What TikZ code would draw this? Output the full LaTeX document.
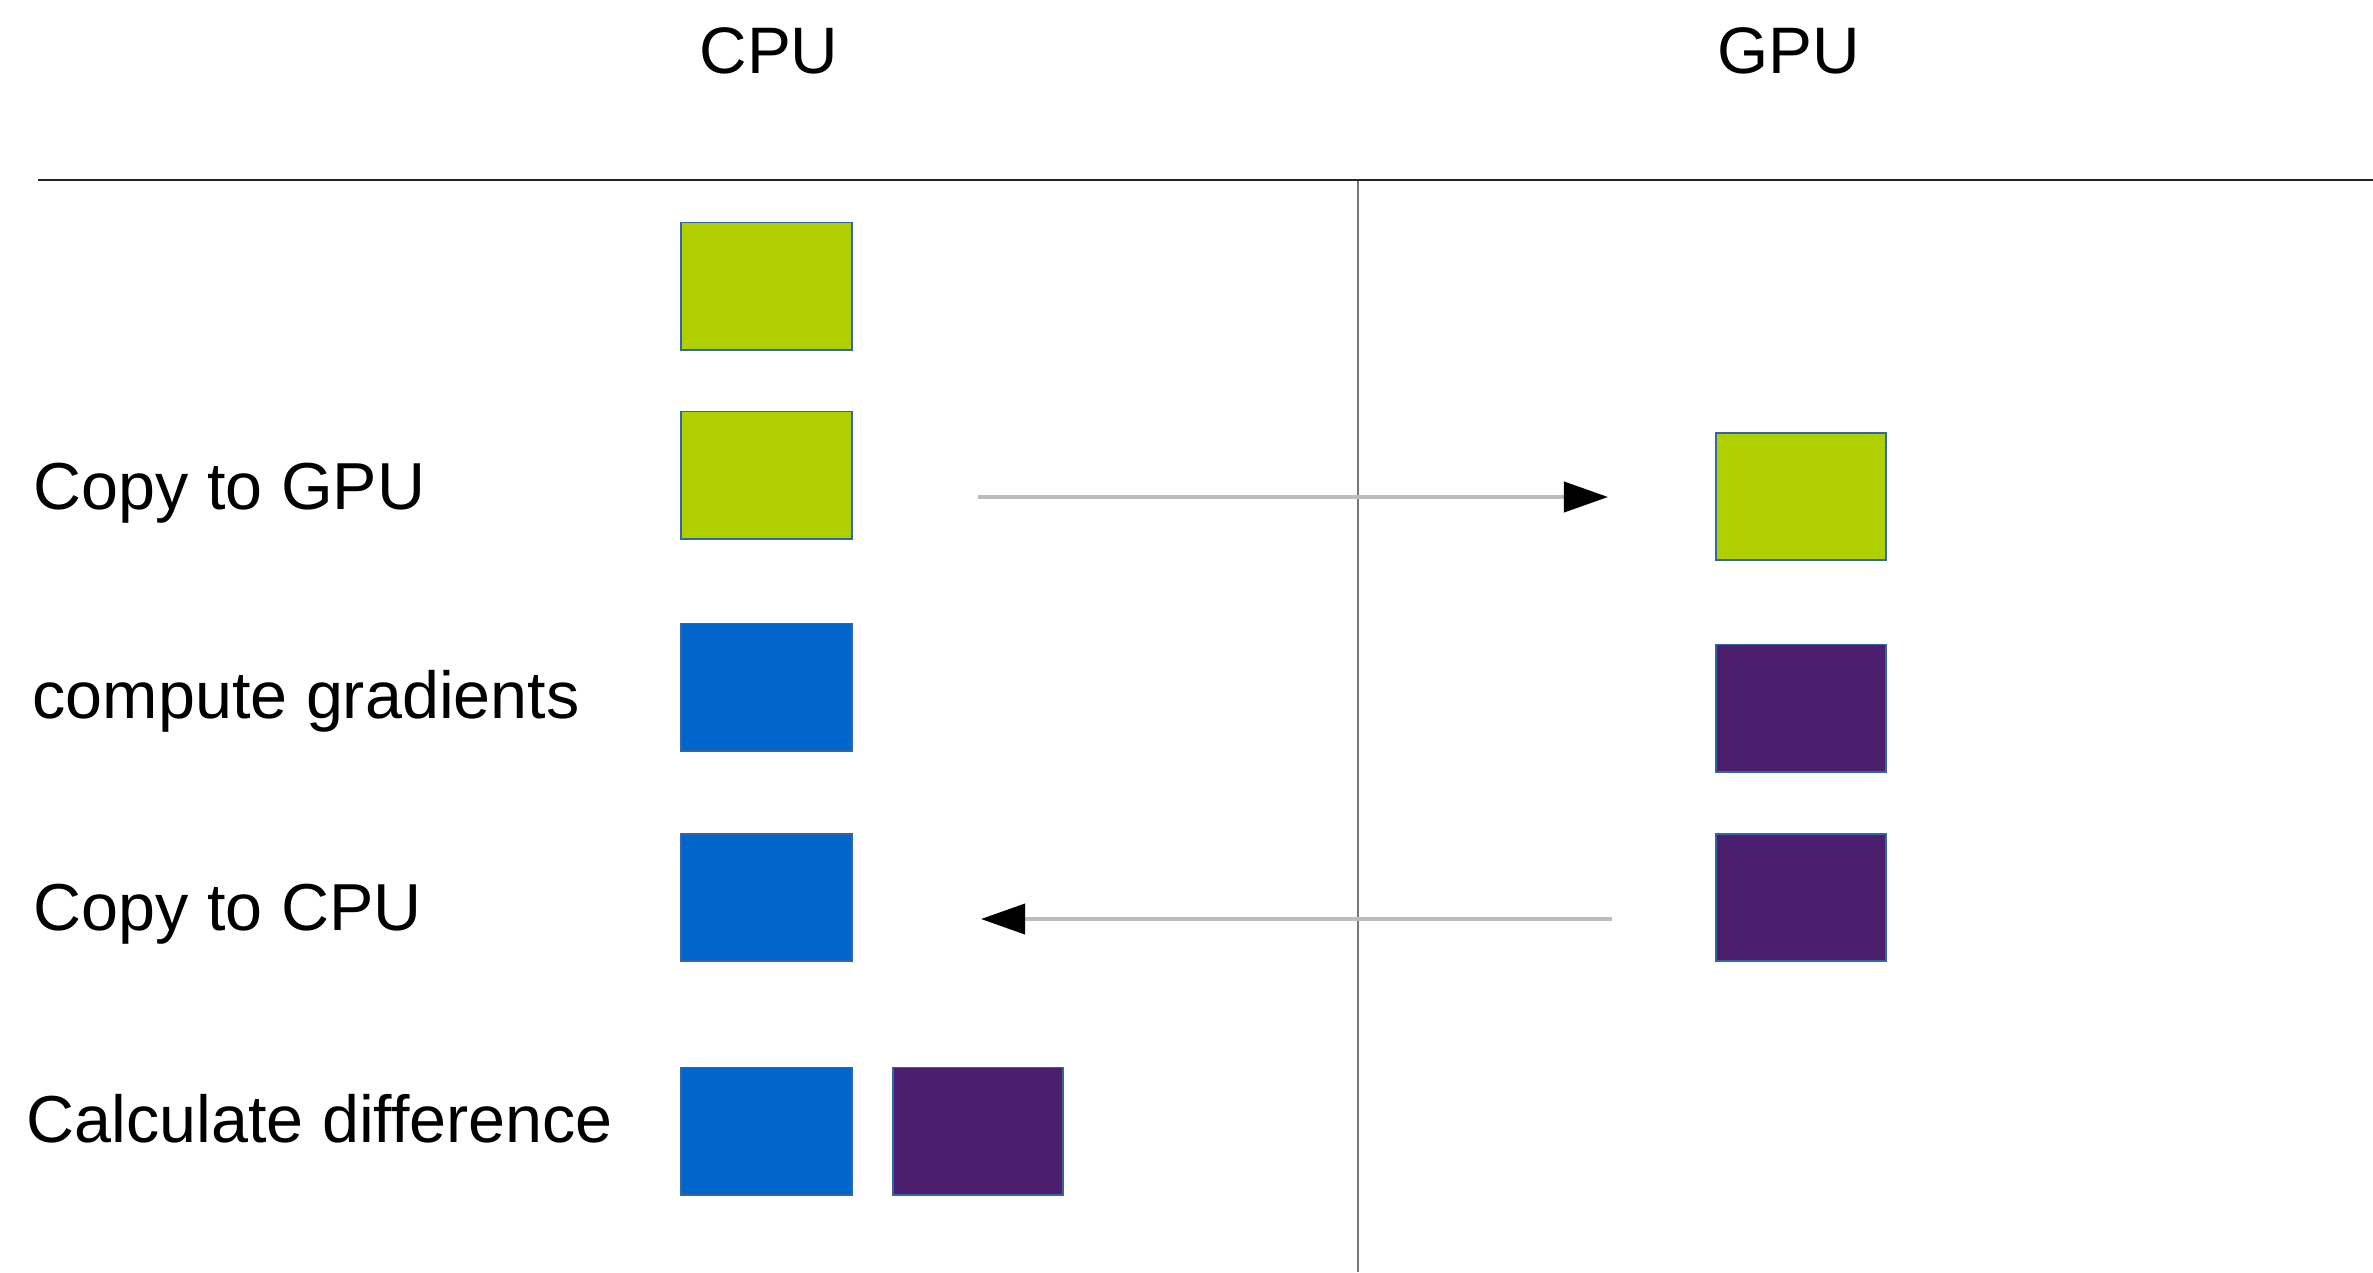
\documentclass[tikz,border=0pt]{standalone}
\usepackage{fontspec}
\setmainfont{Liberation Sans}
\usetikzlibrary{arrows.meta}

\definecolor{dataGreen}{HTML}{B0CF00}
\definecolor{dataBlue}{HTML}{0066CC}
\definecolor{dataPurple}{HTML}{4B1F6E}
\definecolor{boxEdge}{HTML}{3465A4}
\definecolor{flowGray}{HTML}{BDBDBD}
\definecolor{dividerGray}{HTML}{777777}

\tikzset{
  block/.style={rectangle, draw=boxEdge, line width=0.55pt, inner sep=0pt,
                minimum width=1.70cm, minimum height=1.27cm},
  greenblock/.style={block, fill=dataGreen},
  blueblock/.style={block, fill=dataBlue},
  purpleblock/.style={block, fill=dataPurple},
  steplabel/.style={anchor=base west, inner sep=0pt, font=\fontsize{18.9pt}{22pt}\selectfont},
  header/.style={anchor=base, inner sep=0pt, font=\fontsize{18.7pt}{22pt}\selectfont},
  transfer/.style={draw=flowGray, line width=1.1pt,
                   -{Triangle[length=0.44cm, width=0.30cm, fill=black, color=black]}},
}

\begin{document}
\begin{tikzpicture}[x=0.01cm, y=-0.01cm]
  \useasboundingbox (0,0) rectangle (2373,1272);

  % column headers
  \node[header] (cpuhead) at (769,73) {CPU};
  \node[header] (gpuhead) at (1789,73) {GPU};

  % frame: header rule and column divider
  \coordinate (ruleL) at (38,180);
  \coordinate (ruleR) at (2373,180);
  \coordinate (divT) at (1358,180);
  \coordinate (divB) at (1358,1272);
  \draw[dividerGray, line width=0.6pt] (divT) -- (divB);
  \draw[black!85, line width=0.6pt] (ruleL) -- (ruleR);

  % step labels
  \node[steplabel] (lcopygpu) at (33,509) {Copy to GPU};
  \node[steplabel] (lgrad) at (32,718) {compute gradients};
  \node[steplabel] (lcopycpu) at (33,930) {Copy to CPU};
  \node[steplabel] (ldiff) at (26,1142) {Calculate difference};

  % CPU side
  \node[greenblock] (c1) at (766.5,286) {};
  \node[greenblock] (c2) at (766.5,475) {};
  \node[blueblock] (c3) at (766.5,687) {};
  \node[blueblock] (c4) at (766.5,897.5) {};
  \node[blueblock] (c5) at (766.5,1131) {};
  \node[purpleblock] (c5b) at (977.7,1131) {};

  % GPU side
  \node[greenblock] (g2) at (1801,496.5) {};
  \node[purpleblock] (g3) at (1801,708) {};
  \node[purpleblock] (g4) at (1801,897.5) {};

  % transfers between devices
  \coordinate (toGpuStart) at (978,497);
  \coordinate (toGpuEnd) at (1608,497);
  \coordinate (toCpuStart) at (1612,919);
  \coordinate (toCpuEnd) at (981,919);
  \draw[transfer] (toGpuStart) -- (toGpuEnd);
  \draw[transfer] (toCpuStart) -- (toCpuEnd);
\end{tikzpicture}
\end{document}
